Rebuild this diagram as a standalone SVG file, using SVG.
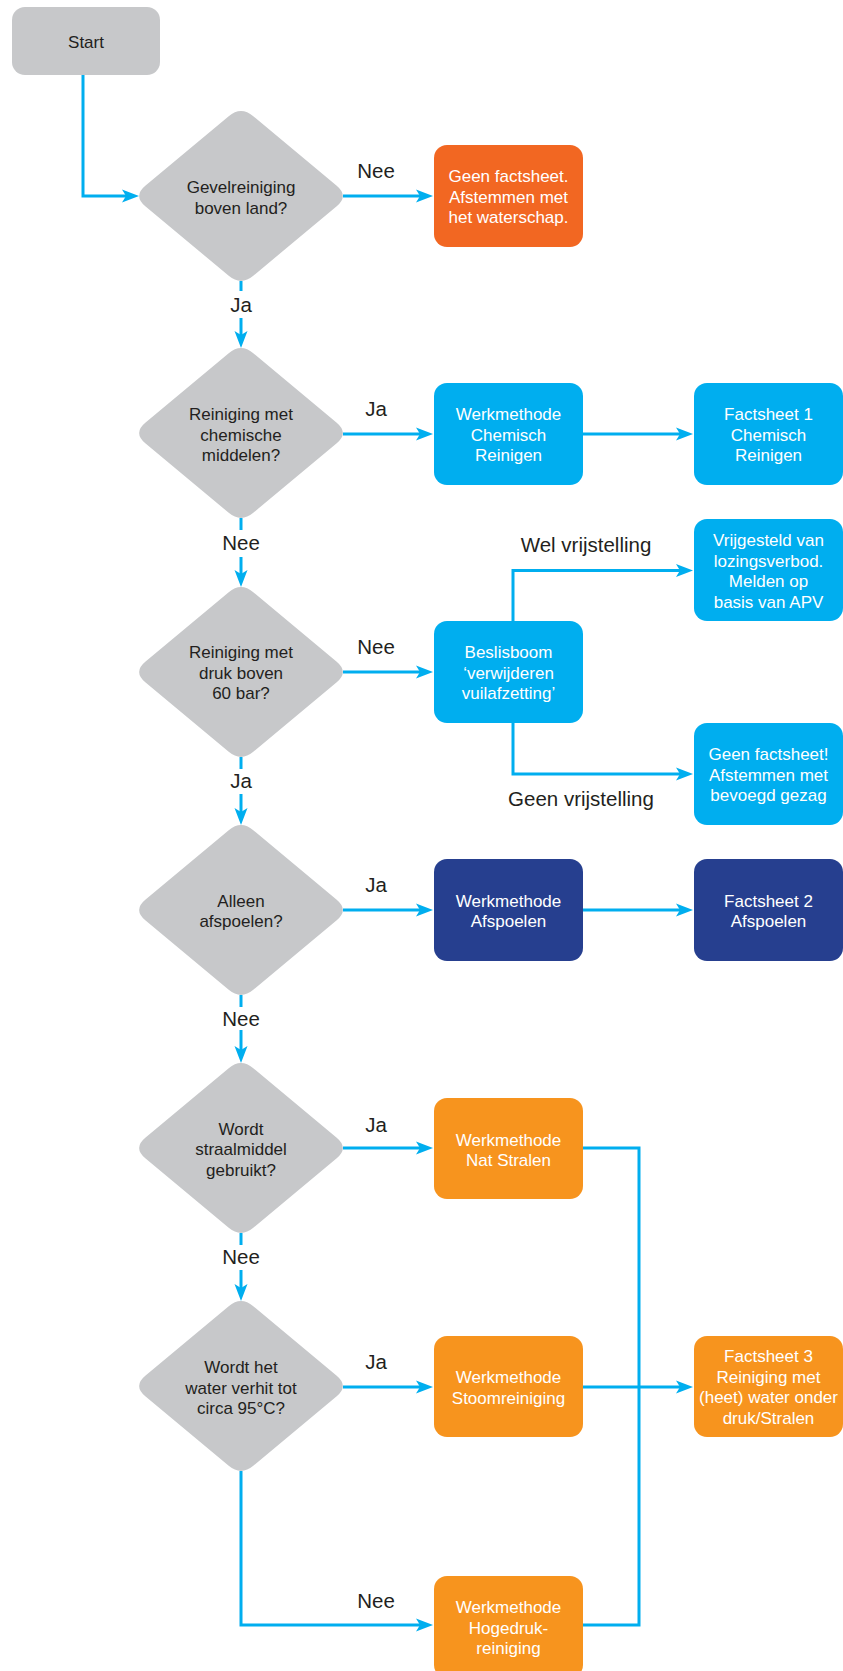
<svg xmlns="http://www.w3.org/2000/svg" width="843" height="1671" viewBox="0 0 843 1671">
<style>
.bg{fill:#ffffff}
.dia{fill:#C7C8CA}
.gray{fill:#C7C8CA}
.blue{fill:#00AEEF}
.navy{fill:#263F8F}
.red{fill:#F26722}
.orange{fill:#F7941E}
.t{font-family:"Liberation Sans",Arial,sans-serif;font-size:17px;text-anchor:middle}
.dk{fill:#231F20}
.wt{fill:#ffffff}
.lbl{font-family:"Liberation Sans",Arial,sans-serif;font-size:20.5px;fill:#231F20;text-anchor:middle}
.con{fill:none;stroke:#00AEEF;stroke-width:3}
</style>
<defs>
<path id="diamond" d="M-12.29,-79.76 Q0,-90 12.29,-79.76 L95.71,-10.24 Q108,0 95.71,10.24 L12.29,79.76 Q0,90 -12.29,79.76 L-95.71,10.24 Q-108,0 -95.71,-10.24 Z"/>
<marker id="arr" viewBox="0 -7 18 14" markerWidth="18" markerHeight="14" refX="4" refY="0" orient="auto" markerUnits="userSpaceOnUse">
<path d="M0,-6.5 L17,0 L0,6.5 L4,0 Z" fill="#00AEEF"/>
</marker>
</defs>
<rect class="bg" x="0" y="0" width="843" height="1671"/>

<g id="connectors">
<path class="con" d="M83,75 V196 H126" marker-end="url(#arr)"/>
<path class="con" d="M343,196 H420" marker-end="url(#arr)"/>
<path class="con" d="M241,281 V291"/>
<path class="con" d="M241,318 V335" marker-end="url(#arr)"/>
<path class="con" d="M343,434 H420" marker-end="url(#arr)"/>
<path class="con" d="M583,434 H680" marker-end="url(#arr)"/>
<path class="con" d="M241,518 V530"/>
<path class="con" d="M241,557 V574" marker-end="url(#arr)"/>
<path class="con" d="M343,672 H420" marker-end="url(#arr)"/>
<path class="con" d="M513,621 V570.5 H680" marker-end="url(#arr)"/>
<path class="con" d="M513,723 V774 H680" marker-end="url(#arr)"/>
<path class="con" d="M241,757 V769"/>
<path class="con" d="M241,794 V812" marker-end="url(#arr)"/>
<path class="con" d="M343,910 H420" marker-end="url(#arr)"/>
<path class="con" d="M583,910 H680" marker-end="url(#arr)"/>
<path class="con" d="M241,995 V1007"/>
<path class="con" d="M241,1030 V1050" marker-end="url(#arr)"/>
<path class="con" d="M343,1148 H420" marker-end="url(#arr)"/>
<path class="con" d="M583,1148 H639 V1625 H583"/>
<path class="con" d="M241,1233 V1245"/>
<path class="con" d="M241,1270 V1288" marker-end="url(#arr)"/>
<path class="con" d="M343,1387 H420" marker-end="url(#arr)"/>
<path class="con" d="M583,1387 H680" marker-end="url(#arr)"/>
<path class="con" d="M241,1471 V1625 H420" marker-end="url(#arr)"/>
</g>

<g id="labels">
<text class="lbl" x="376" y="178">Nee</text>
<text class="lbl" x="241" y="312">Ja</text>
<text class="lbl" x="376" y="416">Ja</text>
<text class="lbl" x="241" y="550">Nee</text>
<text class="lbl" x="586" y="552">Wel vrijstelling</text>
<text class="lbl" x="376" y="654">Nee</text>
<text class="lbl" x="581" y="806">Geen vrijstelling</text>
<text class="lbl" x="241" y="788">Ja</text>
<text class="lbl" x="376" y="892">Ja</text>
<text class="lbl" x="241" y="1026">Nee</text>
<text class="lbl" x="376" y="1132">Ja</text>
<text class="lbl" x="241" y="1264">Nee</text>
<text class="lbl" x="376" y="1369">Ja</text>
<text class="lbl" x="376" y="1608">Nee</text>
</g>

<g id="start">
<rect class="gray" x="12" y="7" width="148" height="68" rx="13"/>
<text class="t dk" x="86" y="48">Start</text>
</g>

<g id="q1">
<use href="#diamond" class="dia" x="241" y="196"/>
<text class="t dk" x="241" y="193">Gevelreiniging<tspan x="241" dy="20.5">boven land?</tspan></text>
</g>
<g id="geen-factsheet-waterschap">
<rect class="red" x="434" y="145" width="149" height="102" rx="13"/>
<text class="t wt" x="508.5" y="182">Geen factsheet.<tspan x="508.5" dy="20.5">Afstemmen met</tspan><tspan x="508.5" dy="20.5">het waterschap.</tspan></text>
</g>

<g id="q2">
<use href="#diamond" class="dia" x="241" y="433"/>
<text class="t dk" x="241" y="420">Reiniging met<tspan x="241" dy="20.5">chemische</tspan><tspan x="241" dy="20.5">middelen?</tspan></text>
</g>
<g id="wm-chemisch">
<rect class="blue" x="434" y="383" width="149" height="102" rx="13"/>
<text class="t wt" x="508.5" y="420">Werkmethode<tspan x="508.5" dy="20.5">Chemisch</tspan><tspan x="508.5" dy="20.5">Reinigen</tspan></text>
</g>
<g id="fs1">
<rect class="blue" x="694" y="383" width="149" height="102" rx="13"/>
<text class="t wt" x="768.5" y="420">Factsheet 1<tspan x="768.5" dy="20.5">Chemisch</tspan><tspan x="768.5" dy="20.5">Reinigen</tspan></text>
</g>

<g id="q3">
<use href="#diamond" class="dia" x="241" y="672"/>
<text class="t dk" x="241" y="658">Reiniging met<tspan x="241" dy="20.5">druk boven</tspan><tspan x="241" dy="20.5">60 bar?</tspan></text>
</g>
<g id="beslisboom">
<rect class="blue" x="434" y="621" width="149" height="102" rx="13"/>
<text class="t wt" x="508.5" y="658">Beslisboom<tspan x="508.5" dy="20.5">‘verwijderen</tspan><tspan x="508.5" dy="20.5">vuilafzetting’</tspan></text>
</g>
<g id="vrijgesteld">
<rect class="blue" x="694" y="519" width="149" height="102" rx="13"/>
<text class="t wt" x="768.5" y="546">Vrijgesteld van<tspan x="768.5" dy="20.5">lozingsverbod.</tspan><tspan x="768.5" dy="20.5">Melden op</tspan><tspan x="768.5" dy="20.5">basis van APV</tspan></text>
</g>
<g id="geen-factsheet-gezag">
<rect class="blue" x="694" y="723" width="149" height="102" rx="13"/>
<text class="t wt" x="768.5" y="760">Geen factsheet!<tspan x="768.5" dy="20.5">Afstemmen met</tspan><tspan x="768.5" dy="20.5">bevoegd gezag</tspan></text>
</g>

<g id="q4">
<use href="#diamond" class="dia" x="241" y="910"/>
<text class="t dk" x="241" y="906.5">Alleen<tspan x="241" dy="20.5">afspoelen?</tspan></text>
</g>
<g id="wm-afspoelen">
<rect class="navy" x="434" y="859" width="149" height="102" rx="13"/>
<text class="t wt" x="508.5" y="906.5">Werkmethode<tspan x="508.5" dy="20.5">Afspoelen</tspan></text>
</g>
<g id="fs2">
<rect class="navy" x="694" y="859" width="149" height="102" rx="13"/>
<text class="t wt" x="768.5" y="906.5">Factsheet 2<tspan x="768.5" dy="20.5">Afspoelen</tspan></text>
</g>

<g id="q5">
<use href="#diamond" class="dia" x="241" y="1148"/>
<text class="t dk" x="241" y="1134.5">Wordt<tspan x="241" dy="20.5">straalmiddel</tspan><tspan x="241" dy="20.5">gebruikt?</tspan></text>
</g>
<g id="wm-natstralen">
<rect class="orange" x="434" y="1098" width="149" height="101" rx="13"/>
<text class="t wt" x="508.5" y="1145.5">Werkmethode<tspan x="508.5" dy="20.5">Nat Stralen</tspan></text>
</g>

<g id="q6">
<use href="#diamond" class="dia" x="241" y="1386"/>
<text class="t dk" x="241" y="1373">Wordt het<tspan x="241" dy="20.5">water verhit tot</tspan><tspan x="241" dy="20.5">circa 95°C?</tspan></text>
</g>
<g id="wm-stoom">
<rect class="orange" x="434" y="1336" width="149" height="101" rx="13"/>
<text class="t wt" x="508.5" y="1383">Werkmethode<tspan x="508.5" dy="20.5">Stoomreiniging</tspan></text>
</g>
<g id="fs3">
<rect class="orange" x="694" y="1336" width="149" height="101" rx="13"/>
<text class="t wt" x="768.5" y="1362">Factsheet 3<tspan x="768.5" dy="20.5">Reiniging met</tspan><tspan x="768.5" dy="20.5">(heet) water onder</tspan><tspan x="768.5" dy="20.5">druk/Stralen</tspan></text>
</g>
<g id="wm-hogedruk">
<rect class="orange" x="434" y="1576" width="149" height="102" rx="13"/>
<text class="t wt" x="508.5" y="1613">Werkmethode<tspan x="508.5" dy="20.5">Hogedruk-</tspan><tspan x="508.5" dy="20.5">reiniging</tspan></text>
</g>
</svg>
